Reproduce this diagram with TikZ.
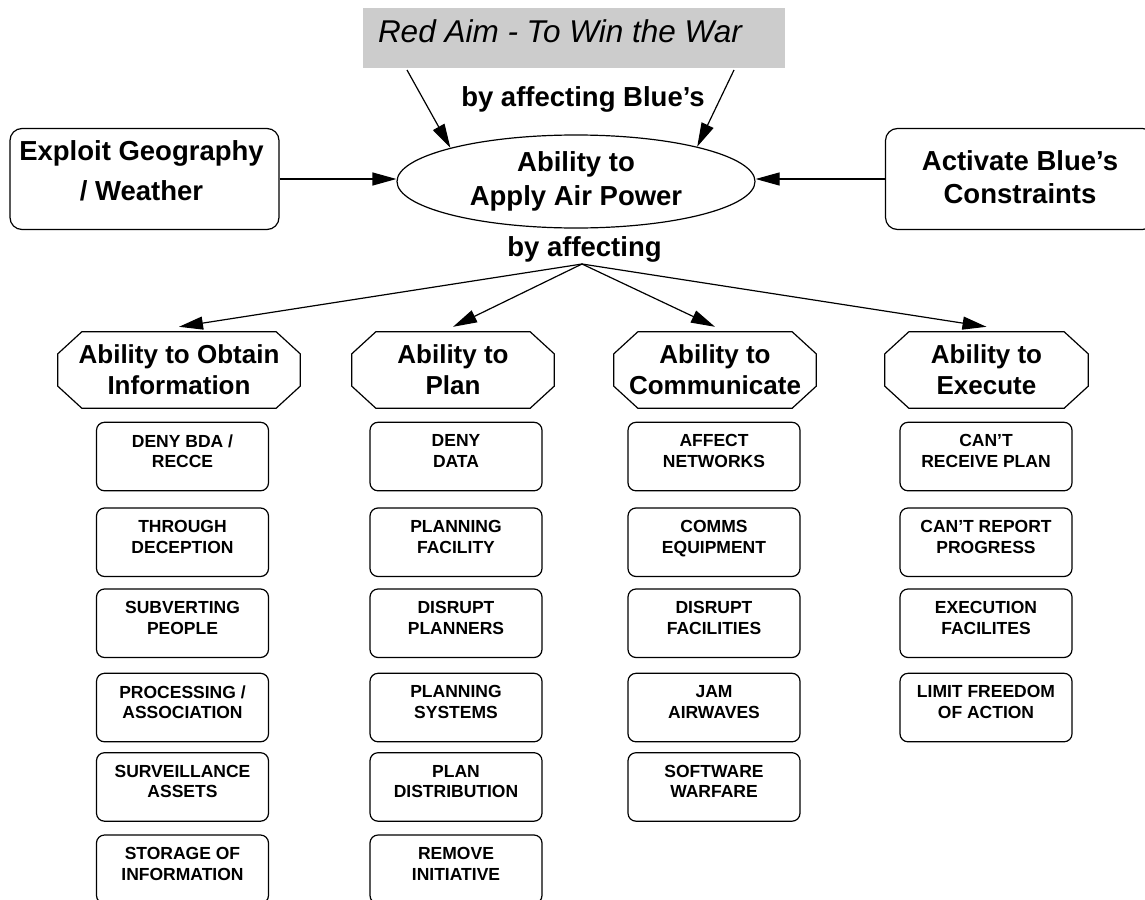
\documentclass[tikz,border=0pt]{standalone}
\usepackage{fontspec}
\setmainfont{Liberation Sans}
\usetikzlibrary{arrows.meta,shapes.geometric}
\definecolor{titlegray}{RGB}{204,204,204}
\begin{document}
\begin{tikzpicture}[x=1pt,y=-1pt,
  arr/.style={line width=1.2pt, -{Triangle[length=24pt,width=13pt]}},
  bigfont/.style={font=\fontsize{27.5pt}{33pt}\selectfont\bfseries},
  bigbox/.style={draw, line width=1.2pt, rounded corners=12pt, minimum width=269pt, minimum height=101pt, inner sep=0pt},
  boxtext/.style={anchor=north, inner sep=0pt, align=center, bigfont},
  octo/.style={rectangle, minimum height=76pt, inner sep=0pt, align=center, font=\fontsize{26pt}{31pt}\selectfont\bfseries},
  octline/.style={line width=1.2pt, line join=miter},
  sbox/.style={draw, line width=1.2pt, rounded corners=8pt, minimum width=172pt, minimum height=68.5pt, inner sep=0pt},
  stext/.style={anchor=north, inner sep=0pt, align=center, yshift=-12.7pt, font=\fontsize{17.5pt}{20.5pt}\selectfont\bfseries},
]
\useasboundingbox (0,0) rectangle (1145,899);

% title
\node[fill=titlegray, minimum width=422pt, minimum height=59.5pt, inner sep=0pt,
  label={[anchor=base west, inner sep=0pt, xshift=15pt, yshift=-5.25pt, font=\fontsize{31.5pt}{36pt}\selectfont\itshape]west:Red Aim - To Win the War}] (title) at (574,37.75) {};
\coordinate (tl) at (407,70);
\coordinate (tr) at (734,70);

\node[anchor=base, inner sep=0pt, bigfont] (byb) at (583,106.7) {by affecting Blue’s};

% central ellipse
\node[draw, ellipse, line width=1.2pt, minimum width=358pt, minimum height=93pt, inner sep=0pt, align=center, font=\fontsize{27.5pt}{34.3pt}\selectfont\bfseries] (ell) at (576,181.5) {Ability to\\Apply Air Power};

% side boxes
\node[bigbox, label={[boxtext, xshift=-3pt, yshift=-12.7pt]north:Exploit Geography\\[7pt]/ Weather}] (lbox) at (144.5,179) {};
\node[bigbox, label={[boxtext, yshift=-22pt]north:Activate Blue’s\\Constraints}] (rbox) at (1020,179) {};

\draw[arr] (tl) -- (ell.165);
\draw[arr] (tr) -- (ell.16);
\draw[arr] (lbox.east) -- (lbox.east -| ell.west);
\draw[arr] (rbox.west) -- (rbox.west -| ell.east);

\node[anchor=base, inner sep=0pt, bigfont] (bya) at (584.5,256.7) {by affecting};
\coordinate (fan) at (582,264);

% octagons
\node[octo, minimum width=242pt] (o1) at (179,370) {Ability to Obtain\\Information};
\node[octo, minimum width=202pt] (o2) at (453,370) {Ability to\\Plan};
\node[octo, minimum width=202pt] (o3) at (715,370) {Ability to\\Communicate};
\node[octo, minimum width=203pt] (o4) at (986.5,370) {Ability to\\Execute};
\foreach \n in {o1,o2,o3,o4}
  \draw[octline] ([xshift=24pt]\n.north west) -- ([xshift=-24pt]\n.north east)
    -- ([yshift=-22pt]\n.north east) -- ([yshift=22pt]\n.south east)
    -- ([xshift=-24pt]\n.south east) -- ([xshift=24pt]\n.south west)
    -- ([yshift=22pt]\n.south west) -- ([yshift=-22pt]\n.north west) -- cycle;

\draw[arr] (fan) -- ([yshift=5pt]o1.north);
\draw[arr] (fan) -- ([yshift=5pt]o2.north);
\draw[arr] (fan) -- ([yshift=5pt]o3.north);
\draw[arr] (fan) -- ([yshift=5pt]o4.north);

% column 1
\node[sbox, label={[stext]north:DENY BDA /\\RECCE}] (a1) at (182.5,456.55) {};
\node[sbox, label={[stext]north:THROUGH\\DECEPTION}] (a2) at (182.5,542.25) {};
\node[sbox, label={[stext]north:SUBVERTING\\PEOPLE}] (a3) at (182.5,623.25) {};
\node[sbox, label={[stext]north:PROCESSING /\\ASSOCIATION}] (a4) at (182.5,707.55) {};
\node[sbox, label={[stext]north:SURVEILLANCE\\ASSETS}] (a5) at (182.5,786.95) {};
\node[sbox, label={[stext]north:STORAGE OF\\INFORMATION}] (a6) at (182.5,869.25) {};

% column 2
\node[sbox, label={[stext]north:DENY\\DATA}] (b1) at (456,456.55) {};
\node[sbox, label={[stext]north:PLANNING\\FACILITY}] (b2) at (456,542.25) {};
\node[sbox, label={[stext]north:DISRUPT\\PLANNERS}] (b3) at (456,623.25) {};
\node[sbox, label={[stext]north:PLANNING\\SYSTEMS}] (b4) at (456,707.55) {};
\node[sbox, label={[stext]north:PLAN\\DISTRIBUTION}] (b5) at (456,786.95) {};
\node[sbox, label={[stext]north:REMOVE\\INITIATIVE}] (b6) at (456,869.25) {};

% column 3
\node[sbox, label={[stext]north:AFFECT\\NETWORKS}] (c1) at (714,456.55) {};
\node[sbox, label={[stext]north:COMMS\\EQUIPMENT}] (c2) at (714,542.25) {};
\node[sbox, label={[stext]north:DISRUPT\\FACILITIES}] (c3) at (714,623.25) {};
\node[sbox, label={[stext]north:JAM\\AIRWAVES}] (c4) at (714,707.55) {};
\node[sbox, label={[stext]north:SOFTWARE\\WARFARE}] (c5) at (714,786.95) {};

% column 4
\node[sbox, label={[stext]north:CAN’T\\RECEIVE PLAN}] (d1) at (986,456.55) {};
\node[sbox, label={[stext]north:CAN’T REPORT\\PROGRESS}] (d2) at (986,542.25) {};
\node[sbox, label={[stext]north:EXECUTION\\FACILITES}] (d3) at (986,623.25) {};
\node[sbox, label={[stext]north:LIMIT FREEDOM\\OF ACTION}] (d4) at (986,707.55) {};
\end{tikzpicture}
\end{document}
